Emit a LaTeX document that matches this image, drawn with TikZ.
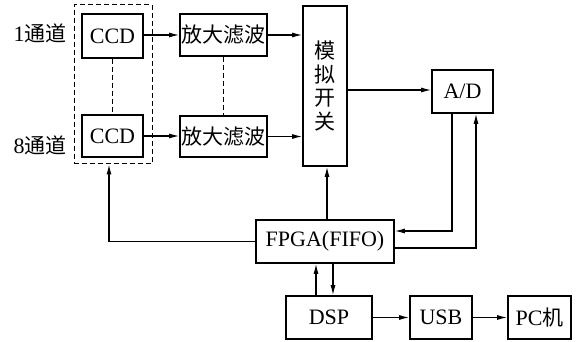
\documentclass[tikz,border=0pt]{standalone}
\usepackage{fontspec}
\setmainfont{Liberation Serif}
\newfontfamily\cjk{Noto Sans CJK SC}
\usetikzlibrary{arrows.meta}
\begin{document}
\begin{tikzpicture}[x=1pt,y=-1pt,
  blk/.style={draw,line width=1.8pt,inner sep=0pt,font=\fontsize{22}{23.5}\selectfont},
  arr/.style={line width=1.1pt,-{Latex[length=10pt,width=5pt]}},
  dsh/.style={line width=1pt,dash pattern=on 5pt off 3pt}]
\useasboundingbox (0,0) rectangle (576,342);
\node[dsh,draw,minimum width=78pt,minimum height=159pt,inner sep=0pt] (grp) at (113,84.5) {};
\node[blk,minimum width=61pt,minimum height=44pt] (ccd1) at (112.5,36) {CCD};
\node[blk,minimum width=61pt,minimum height=42pt] (ccd8) at (112.5,136) {CCD};
\node[blk,minimum width=87pt,minimum height=42pt] (amp1) at (223.5,35) {\cjk\fontsize{21}{23.5}\selectfont 放大滤波};
\node[blk,minimum width=87pt,minimum height=41pt] (amp8) at (223.5,136.5) {\cjk\fontsize{21}{23.5}\selectfont 放大滤波};
\node[blk,minimum width=44pt,minimum height=160pt,align=center,font=\cjk\fontsize{21}{23.5}\selectfont] (mux) at (325,86) {模\\拟\\开\\关};
\node[blk,minimum width=61pt,minimum height=43pt] (ad) at (462.5,91.5) {A/D};
\node[blk,minimum width=138pt,minimum height=43pt] (fpga) at (325,241.5) {FPGA(FIFO)};
\node[blk,minimum width=86pt,minimum height=43pt] (dsp) at (329,317.5) {DSP};
\node[blk,minimum width=62pt,minimum height=43pt] (usb) at (441,317.5) {USB};
\node[blk,minimum width=63pt,minimum height=43pt] (pc) at (539.5,317.5) {PC{\cjk\fontsize{21}{23.5}\selectfont 机}};
\node[font=\fontsize{22}{23.5}\selectfont,inner sep=0pt] (l1) at (40,33) {1{\cjk\fontsize{21}{23.5}\selectfont 通道}};
\node[font=\fontsize{22}{23.5}\selectfont,inner sep=0pt] (l8) at (40,145) {8{\cjk\fontsize{21}{23.5}\selectfont 通道}};
\draw[dsh] (ccd1.south) -- (ccd8.north);
\draw[dsh] (amp1.south) -- (amp8.north);
\draw[arr] ([yshift=1pt]ccd1.east) -- ([yshift=1pt]ccd1.east -| amp1.west);
\draw[arr] (ccd8.east) -- (ccd8.east -| amp8.west);
\draw[arr] (amp1.east) -- (amp1.east -| mux.west);
\draw[arr] (amp8.east) -- (amp8.east -| mux.west);
\draw[arr] ([yshift=1.5pt]ad.west -| mux.east) -- ([yshift=1.5pt]ad.west);
\draw[arr] ([xshift=2pt]fpga.north) -- ([xshift=2pt]mux.south);
\draw[arr] ([xshift=-10.5pt]ad.south) |- ([yshift=10.5pt]fpga.east);
\draw[arr] ([yshift=-6.5pt]fpga.east) -| ([xshift=13.5pt]ad.south);
\draw[arr] (fpga.west) -| ([xshift=-4pt]grp.south);
\draw[arr] ([xshift=-13pt]dsp.north) -- ([xshift=-13pt]dsp.north |- fpga.south);
\draw[arr] ([xshift=4pt]dsp.north |- fpga.south) -- ([xshift=4pt]dsp.north);
\draw[arr] (dsp.east) -- (usb.west);
\draw[arr] (usb.east) -- (pc.west);
\end{tikzpicture}
\end{document}
